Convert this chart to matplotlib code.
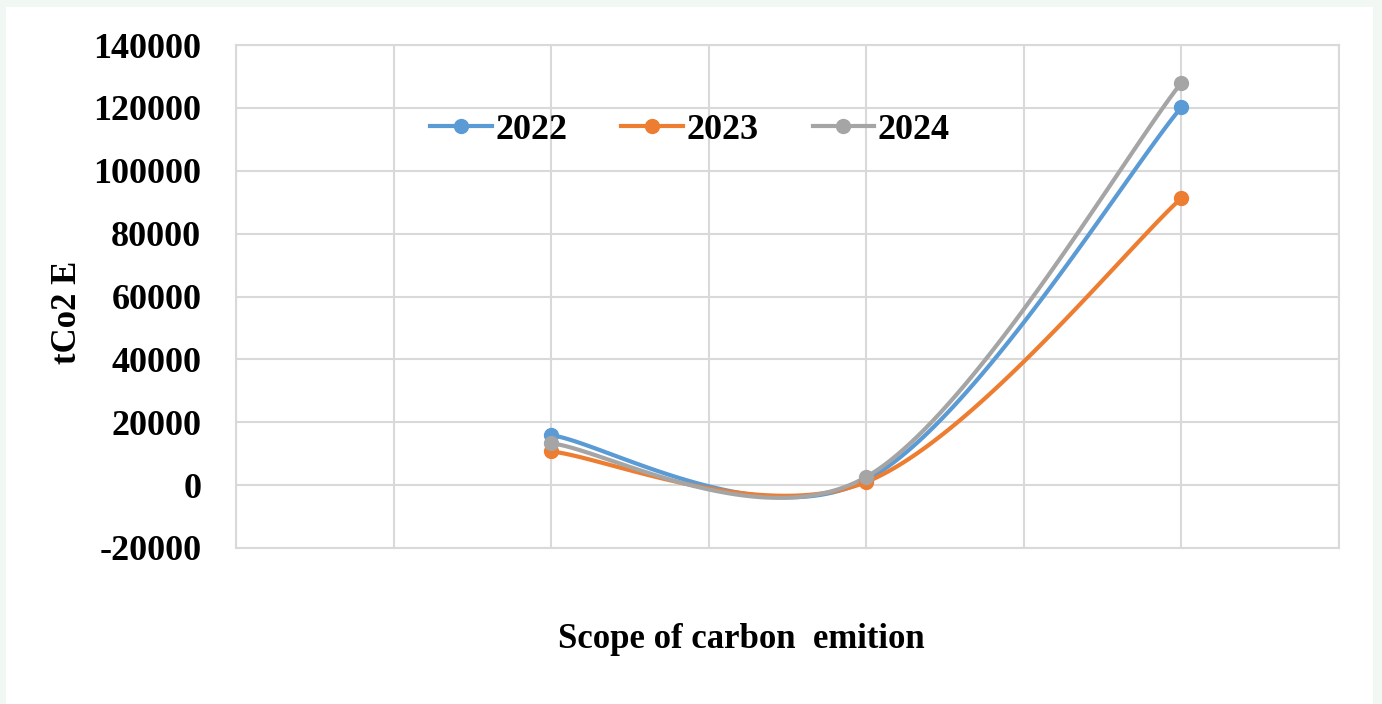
import numpy as np
import matplotlib
matplotlib.use("Agg")
import matplotlib.pyplot as plt
from matplotlib.patches import Rectangle

plt.rcParams["axes.unicode_minus"] = False

# Data
years = ["2022", "2023", "2024"]
x_positions = [2, 4, 6]
values_2022 = [15900, 1600, 120200]
values_2023 = [10700, 1000, 91300]
values_2024 = [13300, 2600, 128000]
series = [values_2022, values_2023, values_2024]
colors = ["#5b9bd5", "#ed7d31", "#a5a5a5"]
yticks = [-20000, 0, 20000, 40000, 60000, 80000, 100000, 120000, 140000]


def excel_smooth(xs, ys, n=60):
    """Catmull-Rom style Bezier smoothing like Excel's smoothed line."""
    pts = np.column_stack([xs, ys]).astype(float)
    out = []
    m = len(pts)
    for i in range(m - 1):
        p0 = pts[i - 1] if i > 0 else pts[i]
        p1 = pts[i]
        p2 = pts[i + 1]
        p3 = pts[i + 2] if i + 2 < m else pts[i + 1]
        c1 = p1 + (p2 - p0) / 6.0
        c2 = p2 - (p3 - p1) / 6.0
        t = np.linspace(0, 1, n)[:, None]
        b = ((1 - t) ** 3) * p1 + 3 * ((1 - t) ** 2) * t * c1 + 3 * (1 - t) * t ** 2 * c2 + t ** 3 * p2
        out.append(b if i == 0 else b[1:])
    arr = np.vstack(out)
    return arr[:, 0], arr[:, 1]


W, H = 1382, 704
fig = plt.figure(figsize=(W / 100, H / 100), dpi=100)
fig.patch.set_facecolor("#f1f7f2")
bg = Rectangle((6 / W, 0), (1373 - 6) / W, (H - 7) / H,
               transform=fig.transFigure, facecolor="white",
               edgecolor="none", zorder=-10)
fig.add_artist(bg)

ax = fig.add_axes([236 / W, 1 - 548 / H, (1339 - 236) / W, (548 - 45) / H])
ax.set_zorder(1)
ax.set_facecolor("white")

for vals, col, yr in zip(series, colors, years):
    sx, sy = excel_smooth(x_positions, vals)
    ax.plot(sx, sy, color=col, lw=3, solid_capstyle="round", zorder=3)
    ax.plot(x_positions, vals, "o", color=col, ms=10, zorder=4)
    ax.plot([], [], "-o", color=col, lw=3, ms=10, label=yr)

ax.set_xlim(0, 7)
ax.set_ylim(-20000, 140000)
ax.set_yticks(yticks)
ax.set_xticks(np.arange(0, 8, 1))
ax.set_xticklabels([])
ax.tick_params(axis="both", length=0)
ax.grid(True, color="#d9d9d9", lw=1.5)
ax.set_axisbelow(True)
for s in ax.spines.values():
    s.set_color("#d9d9d9")
    s.set_linewidth(1.5)

font = dict(family="Liberation Serif", weight="bold")
for lab in ax.get_yticklabels():
    lab.set_fontfamily("Liberation Serif")
    lab.set_fontweight("bold")
    lab.set_fontsize(26)
ax.tick_params(axis="y", pad=25)

fig.text(68 / W, 1 - 312 / H, "tCo2 E", rotation=90, ha="center", va="center",
         fontsize=25, **font)
fig.text(741 / W, 1 - 640 / H, "Scope of carbon  emition", ha="center", va="center",
         fontsize=25, **font)

leg = ax.legend(loc="center", bbox_to_anchor=((690 - 236) / (1339 - 236), (548 - 130) / (548 - 45)),
                ncol=3, frameon=False, prop=dict(family="Liberation Serif", weight="bold", size=26),
                handlelength=1.7, handletextpad=0.1, columnspacing=1.5)

fig.savefig("out.png", dpi=100, facecolor=fig.get_facecolor())
